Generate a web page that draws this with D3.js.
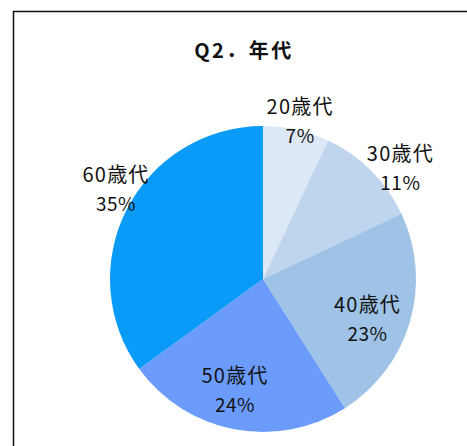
<!DOCTYPE html>
<html>
<head>
<meta charset="utf-8">
<script src="https://cdn.jsdelivr.net/npm/d3@7"></script>
<style>
  html, body { margin: 0; padding: 0; background: #ffffff; }
  svg { display: block; }
</style>
</head>
<body>
<svg id="chart" width="467" height="446"></svg>
<script>
// Age-group breakdown (percent of respondents)
const categories = ["20歳代", "30歳代", "40歳代", "50歳代", "60歳代"];
const shares = [7, 11, 23, 24, 35];
const title = "Q2．年代";

const sliceColors = ["#dde8f6", "#bfd5ee", "#9fc3e6", "#6b9cfb", "#0a9af8"];

const svg = d3.select("#chart");
const width = 467, height = 446;
const cx = 263, cy = 279, radius = 153;

// Chart frame (runs off the right and bottom edges)
svg.append("rect")
  .attr("x", 13.5).attr("y", 11.5)
  .attr("width", width + 20).attr("height", height + 20)
  .attr("fill", "#ffffff")
  .attr("stroke", "#111")
  .attr("stroke-width", 1.5);

// Title
svg.append("text")
  .attr("x", 244).attr("y", 58)
  .attr("text-anchor", "middle")
  .attr("font-family", "'Noto Sans CJK JP', sans-serif")
  .attr("font-weight", "bold")
  .attr("font-size", 20)
  .attr("letter-spacing", 2.5)
  .attr("fill", "#111")
  .text(title);

const data = categories.map((c, i) => ({ name: c, value: shares[i] }));

const pie = d3.pie().value(d => d.value).sort(null);
const arcs = pie(data);
const arc = d3.arc().innerRadius(0).outerRadius(radius);
const color = d3.scaleOrdinal().domain(categories).range(sliceColors);

const g = svg.append("g").attr("transform", `translate(${cx},${cy})`);

g.selectAll("path.slice")
  .data(arcs)
  .join("path")
  .attr("class", "slice")
  .attr("d", arc)
  .attr("fill", d => color(d.data.name));

// Label placement: distance from centre (as fraction of radius) and angular nudge (degrees)
const labelPlacement = [
  { k: 1.07, da: 0.5 },
  { k: 1.16, da: 5.7 },
  { k: 0.73, da: 4.4 },
  { k: 0.74, da: 3.5 },
  { k: 1.13, da: 4.8 }
];

const labels = g.selectAll("g.label")
  .data(arcs)
  .join("g")
  .attr("class", "label")
  .attr("transform", (d, i) => {
    const p = labelPlacement[i];
    const a = (d.startAngle + d.endAngle) / 2 + p.da * Math.PI / 180;
    const r = radius * p.k;
    return `translate(${r * Math.sin(a)},${-r * Math.cos(a)})`;
  });

const labelFont = "'Noto Sans CJK JP', sans-serif";

labels.append("text")
  .attr("text-anchor", "middle")
  .attr("y", -6)
  .attr("font-family", labelFont)
  .attr("font-size", 20)
  .attr("letter-spacing", 1.2)
  .attr("fill", "#111")
  .text(d => d.data.name);

labels.append("text")
  .attr("text-anchor", "middle")
  .attr("y", 23)
  .attr("font-family", labelFont)
  .attr("font-size", 19)
  .attr("letter-spacing", 0.5)
  .attr("fill", "#111")
  .text(d => d.data.value + "%");
</script>
</body>
</html>
